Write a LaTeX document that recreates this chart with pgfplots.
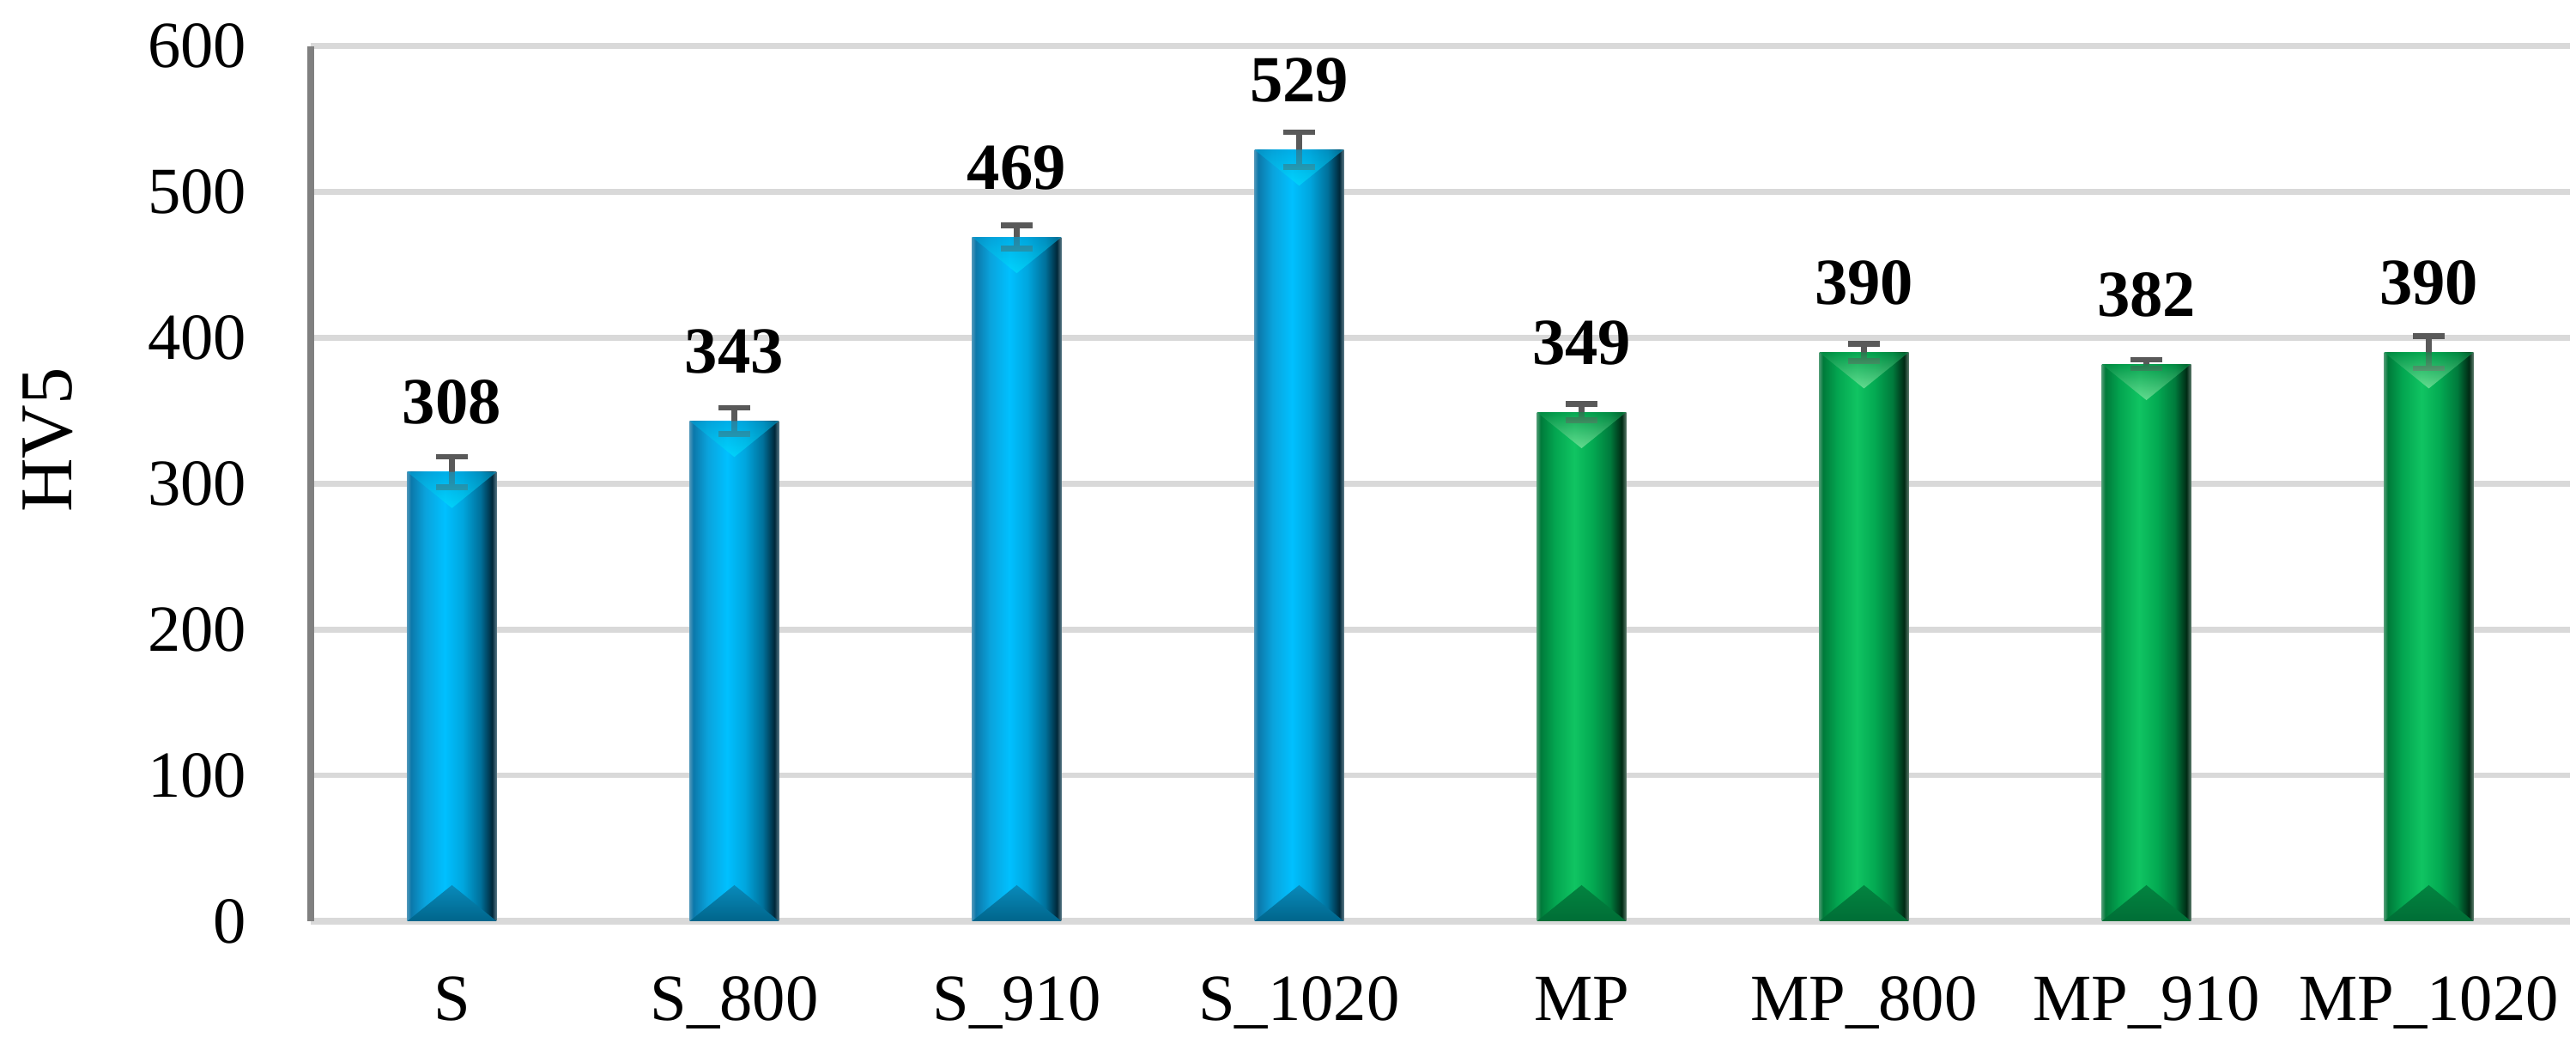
\documentclass[border=0pt]{standalone}
\usepackage{fontspec}
\setmainfont{Liberation Serif}
\usepackage{pgfplots}
\usepackage{pgfplotstable}
\pgfplotsset{compat=1.18}

% bar colours
\definecolor{bA}{HTML}{4A94B8}
\definecolor{bB}{HTML}{0B78AA}
\definecolor{bC}{HTML}{0AA3DC}
\definecolor{bD}{HTML}{00C0FF}
\definecolor{bE}{HTML}{00A6DE}
\definecolor{bF}{HTML}{00709A}
\definecolor{bG}{HTML}{00283A}
\definecolor{bH}{HTML}{5A7A88}
\definecolor{gA}{HTML}{4A9A70}
\definecolor{gB}{HTML}{007A3A}
\definecolor{gC}{HTML}{03A550}
\definecolor{gD}{HTML}{10C462}
\definecolor{gE}{HTML}{03AA52}
\definecolor{gF}{HTML}{007A3C}
\definecolor{gG}{HTML}{002A14}
\definecolor{gH}{HTML}{5A7A6A}
\definecolor{gridc}{HTML}{D9D9D9}
\definecolor{axgray}{HTML}{808080}
\definecolor{errgray}{HTML}{595959}

\pgfdeclarehorizontalshading{bluebar}{100bp}{color(0bp)=(bA); color(25bp)=(bA);
  color(27bp)=(bB); color(35bp)=(bC); color(46bp)=(bD); color(56bp)=(bE);
  color(66bp)=(bF); color(72.5bp)=(bG); color(75bp)=(bH); color(100bp)=(bH)}
\pgfdeclarehorizontalshading{greenbar}{100bp}{color(0bp)=(gA); color(25bp)=(gA);
  color(27bp)=(gB); color(35bp)=(gC); color(46bp)=(gD); color(56bp)=(gE);
  color(66bp)=(gF); color(72.5bp)=(gG); color(75bp)=(gH); color(100bp)=(gH)}

% bevels at the top and foot of each bar (top ones see-through, so the
% lower half of each error bar still shows)
\pgfdeclareplotmark{btop}{\shade[draw=none, opacity=0.6, top color=bD!85!black, bottom color=cyan!55!bD]
  (-7.8pt,0pt) -- (7.8pt,0pt) -- (0pt,-6.3pt) -- cycle;}
\pgfdeclareplotmark{bfoot}{\shade[draw=none, top color=bC!85!black, bottom color=bF!90!black]
  (-7.8pt,0pt) -- (7.8pt,0pt) -- (0pt,6.3pt) -- cycle;}
\pgfdeclareplotmark{gtop}{\shade[draw=none, opacity=0.6, top color=gC!90!black, bottom color=gD!60!green!40!white]
  (-7.8pt,0pt) -- (7.8pt,0pt) -- (0pt,-6.3pt) -- cycle;}
\pgfdeclareplotmark{gfoot}{\shade[draw=none, top color=gC!80!black, bottom color=gF!90!black]
  (-7.8pt,0pt) -- (7.8pt,0pt) -- (0pt,6.3pt) -- cycle;}

\pgfplotstableread{
x y e
0 308 10.5
1 343 9
2 469 8
3 529 12
}\sdata
\pgfplotstableread{
x y e
4 349 5.5
5 390 6
6 382 3
7 390 11
}\mpdata

\pgfplotsset{
  barb/.style={ybar, bar width=15.6pt, bar shift=0pt, draw=none, shading=bluebar, forget plot},
  barg/.style={ybar, bar width=15.6pt, bar shift=0pt, draw=none, shading=greenbar, forget plot},
}

\begin{document}
\begin{tikzpicture}
\path[use as bounding box] (-54.3pt,-22.5pt) rectangle (395.85pt,160.95pt);
\begin{axis}[
  scale only axis,
  width=394.8pt, height=152.9pt,
  xmin=-0.5, xmax=7.5,
  ymin=0, ymax=600,
  ytick distance=100,
  xtick={0,...,7},
  xticklabels={S, S\_800, S\_910, S\_1020, MP, MP\_800, MP\_910, MP\_1020},
  enlargelimits=false,
  axis x line*=bottom, axis y line*=left,
  x axis line style={draw=gridc, line width=1.1pt, -},
  y axis line style={draw=axgray, line width=1.2pt, -},
  major tick length=0pt,
  tick style={draw=none},
  ymajorgrids,
  major grid style={draw=gridc, line width=1pt},
  /pgf/number format/assume math mode=true,
  tick label style={font=\fontsize{11.5}{13}\selectfont},
  yticklabel style={anchor=east, inner sep=0pt, xshift=-11pt},
  xticklabel style={anchor=base, inner sep=0pt, yshift=-17.4pt},
  ylabel={HV5},
  every axis y label/.style={at={(axis description cs:0,0.55)}, xshift=-45.9pt,
    rotate=90, anchor=center, font=\fontsize{13}{15}\selectfont},
]
% bars, one plot each so that every bar gets its own shading
\addplot[barb, skip coords between index={1}{4}] table[x=x, y=y] {\sdata};
\addplot[barb, skip coords between index={0}{1}, skip coords between index={2}{4}] table[x=x, y=y] {\sdata};
\addplot[barb, skip coords between index={0}{2}, skip coords between index={3}{4}] table[x=x, y=y] {\sdata};
\addplot[barb, skip coords between index={0}{3}] table[x=x, y=y] {\sdata};
\addplot[barg, skip coords between index={1}{4}] table[x=x, y=y] {\mpdata};
\addplot[barg, skip coords between index={0}{1}, skip coords between index={2}{4}] table[x=x, y=y] {\mpdata};
\addplot[barg, skip coords between index={0}{2}, skip coords between index={3}{4}] table[x=x, y=y] {\mpdata};
\addplot[barg, skip coords between index={0}{3}] table[x=x, y=y] {\mpdata};
% bevels
\addplot[only marks, mark=btop, forget plot] table[x=x, y=y] {\sdata};
\addplot[only marks, mark=bfoot, forget plot] table[x=x, y expr=0] {\sdata};
\addplot[only marks, mark=gtop, forget plot] table[x=x, y=y] {\mpdata};
\addplot[only marks, mark=gfoot, forget plot] table[x=x, y expr=0] {\mpdata};
% error bars and value labels
\pgfplotsset{errstyle/.style={only marks, mark=none, forget plot,
    nodes near coords,
    nodes near coords align={anchor=base},
    every node near coord/.append style={font=\bfseries\fontsize{11.5}{13}\selectfont,
      anchor=base, inner sep=0pt, yshift=8.4pt, text=black},
    error bars/.cd, y dir=both, y explicit,
    error bar style={draw=errgray, line width=1pt},
    error mark options={rotate=90, mark size=2.75pt, line width=1pt, draw=errgray}}}
\addplot[errstyle] table[x=x, y=y, y error=e] {\sdata};
\addplot[errstyle] table[x=x, y=y, y error=e] {\mpdata};
\end{axis}
\end{tikzpicture}
\end{document}
